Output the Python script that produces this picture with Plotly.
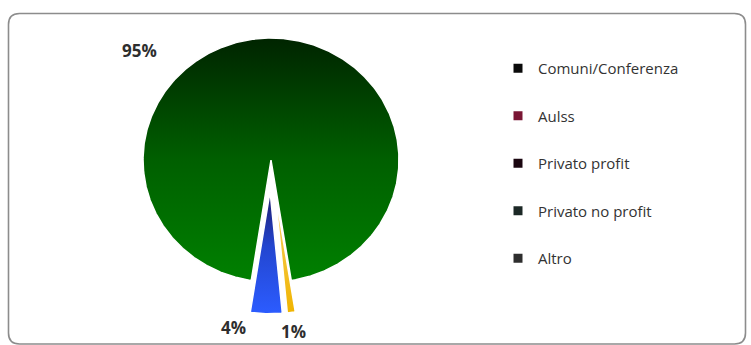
import numpy as np
import plotly.graph_objects as go

# Category shares (percent), in clockwise drawing order
labels = ["Comuni/Conferenza", "Aulss", "Privato profit", "Privato no profit", "Altro"]
shares = [95, 1, 0, 4, 0]

# Slice styling
slice_fills = [
    [[0, "#002400"], [0.5, "#005f00"], [1, "#008000"]],
    [[0, "#f7d26a"], [1, "#f0b400"]],
    [[0, "#3a0a14"], [1, "#5a1020"]],
    [[0, "#1e1a6a"], [0.45, "#2346d0"], [1, "#2c5cff"]],
    [[0, "#404040"], [1, "#606060"]],
]
pull = [0.0, 0.26, 0.26, 0.26, 0.26]
legend_colors = ["#0a0a0a", "#7a1634", "#1a0610", "#1c2826", "#2e2e2e"]

# Pie geometry in pixel space
W, H = 751, 345
cx, cy = 271, 160
rx, ry = 128, 122
rotation = 188.9  # start angle of the first slice, clockwise from 12 o'clock

fig = go.Figure()

total = float(sum(shares))
theta = rotation
for lab, v, fill, p in zip(labels, shares, slice_fills, pull):
    span = 360.0 * v / total
    if v <= 0:
        continue
    t0, t1 = theta, theta + span
    tm = np.radians((t0 + t1) / 2)
    ox = p * ry * np.sin(tm)
    oy = -p * ry * np.cos(tm)
    ts = np.radians(np.linspace(t0, t1, max(int(span * 2), 8)))
    xs = np.concatenate([[cx + ox], cx + ox + rx * np.sin(ts), [cx + ox]])
    ys = np.concatenate([[cy + oy], cy + oy - ry * np.cos(ts), [cy + oy]])
    fig.add_trace(go.Scatter(
        x=xs, y=ys, mode="lines", fill="toself",
        line=dict(color="white", width=1.5),
        fillgradient=dict(type="vertical", colorscale=fill,
                          start=float(ys.min()), stop=float(ys.max())),
        showlegend=False, hoverinfo="text", text=f"{lab}: {v}%",
    ))
    theta = t1

# Legend entries
for lab, c in zip(labels, legend_colors):
    fig.add_trace(go.Scatter(
        x=[None], y=[None], mode="markers", name=lab, legendgroup=lab,
        marker=dict(symbol="square", size=9, color=c),
    ))

# Percentage labels
label_pos = {"Comuni/Conferenza": (139, 50), "Aulss": (293, 331), "Privato no profit": (233, 327)}
for lab, v in zip(labels, shares):
    if v <= 0:
        continue
    x, y = label_pos[lab]
    fig.add_annotation(x=x, y=y, xref="x", yref="y", text=f"{v}%", showarrow=False,
                       font=dict(family="Open Sans", size=17, color="#2e2e2e", weight="bold"))

# Rounded chart-area frame
x0, y0, x1, y1, r = 8.5, 13.5, 745.5, 344, 11
frame = (f"M {x0+r},{y0} L {x1-r},{y0} Q {x1},{y0} {x1},{y0+r} "
         f"L {x1},{y1-r} Q {x1},{y1} {x1-r},{y1} L {x0+r},{y1} "
         f"Q {x0},{y1} {x0},{y1-r} L {x0},{y0+r} Q {x0},{y0} {x0+r},{y0} Z")
fig.add_shape(type="path", path=frame, xref="x", yref="y",
              line=dict(color="#8c8c8c", width=1.6), layer="below")

fig.update_layout(
    width=W, height=H,
    margin=dict(l=0, r=0, t=0, b=0),
    paper_bgcolor="white", plot_bgcolor="white",
    xaxis=dict(range=[0, W], visible=False, fixedrange=True, domain=[0, 1]),
    yaxis=dict(range=[H, 0], visible=False, fixedrange=True, domain=[0, 1]),
    legend=dict(x=498 / W, y=1 - 52 / H, xanchor="left", yanchor="top",
                font=dict(family="Open Sans", size=15, color="#333333"),
                tracegroupgap=25, itemwidth=30, bgcolor="rgba(0,0,0,0)"),
    showlegend=True,
)

fig.write_html("out.html")
